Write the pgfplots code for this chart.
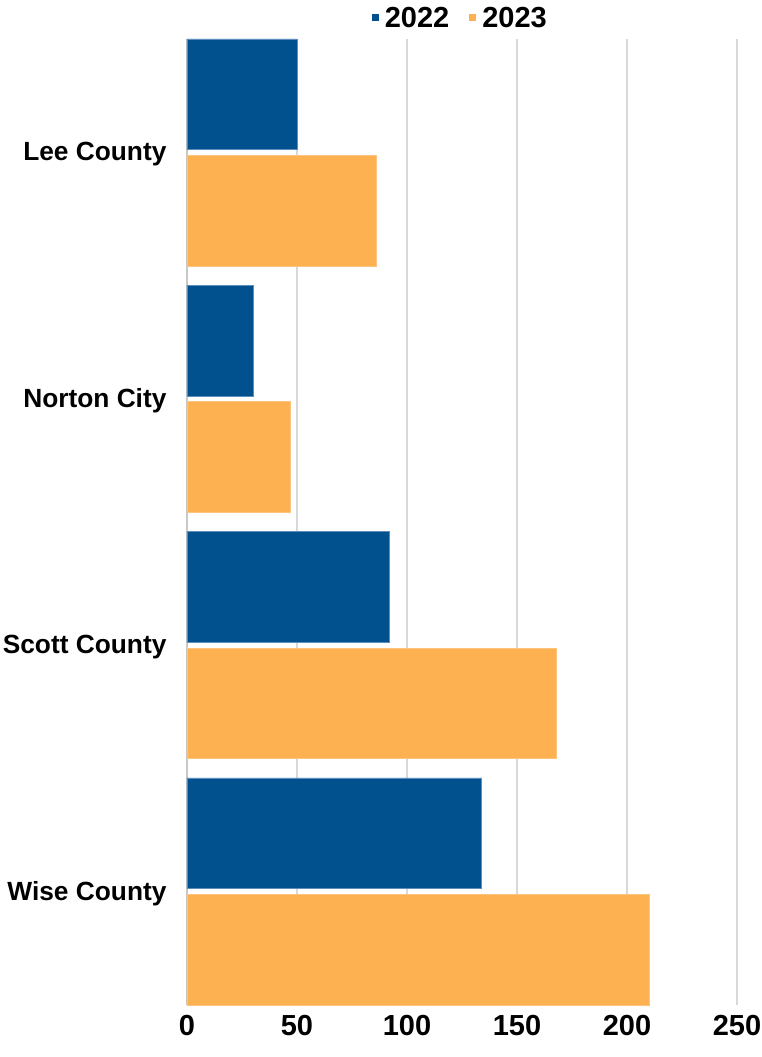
\documentclass[border=0pt]{standalone}
\usepackage{pgfplots}
\pgfplotsset{compat=1.18}
\usepackage{fontspec}
\setmainfont{Liberation Sans}
\definecolor{c22}{RGB}{0,81,142}
\definecolor{c22b}{RGB}{95,140,190}
\definecolor{c23}{RGB}{253,177,81}
\definecolor{c23b}{RGB}{253,196,125}
\definecolor{gridc}{RGB}{217,217,217}
\definecolor{axc}{RGB}{200,200,200}
\begin{document}
\begin{tikzpicture}
\path[use as bounding box] (-187pt,-52pt) rectangle (575pt,1005pt);
\begin{axis}[
  scale only axis,
  width=550pt, height=966pt,
  xbar,
  xmin=0, xmax=250,
  ymin=-0.461, ymax=3.461,
  xtick={0,50,100,150,200,250},
  ytick={0,1,2,3},
  yticklabels={Wise County, Scott County, Norton City, Lee County},
  major tick length=0pt,
  xmajorgrids,
  grid style={draw=gridc, line width=1.2pt},
  axis x line*=bottom,
  axis y line*=left,
  x axis line style={draw=none},
  y axis line style={draw=axc, line width=2pt, -},
  /pgf/number format/assume math mode=true,
  yticklabel style={font=\fontsize{26.3}{30}\selectfont\bfseries, xshift=-17pt, yshift=-2pt},
  xticklabel style={font=\fontsize{29}{32}\selectfont\bfseries, yshift=-7pt},
  legend columns=2,
  legend style={at={(0.497,1.022)}, anchor=center, draw=none, fill=none,
    font=\fontsize{29}{32}\selectfont\bfseries,
    /tikz/every odd column/.append style={column sep=4pt},
    /tikz/every even column/.append style={column sep=18pt}},
  legend image code/.code={\fill[#1,draw=none] (0pt,-3.5pt) rectangle (7pt,3.5pt);},
]
\addplot[fill=c22, draw=c22b, line width=0.7pt, bar width=0.449, bar shift=0.2366]
  coordinates {(134,0) (92,1) (30,2) (50,3)};
\addplot[fill=c23, draw=c23b, line width=0.7pt, bar width=0.449, bar shift=-0.2366]
  coordinates {(210,0) (168,1) (47,2) (86,3)};
\legend{2022,2023}
\end{axis}
\end{tikzpicture}
\end{document}
